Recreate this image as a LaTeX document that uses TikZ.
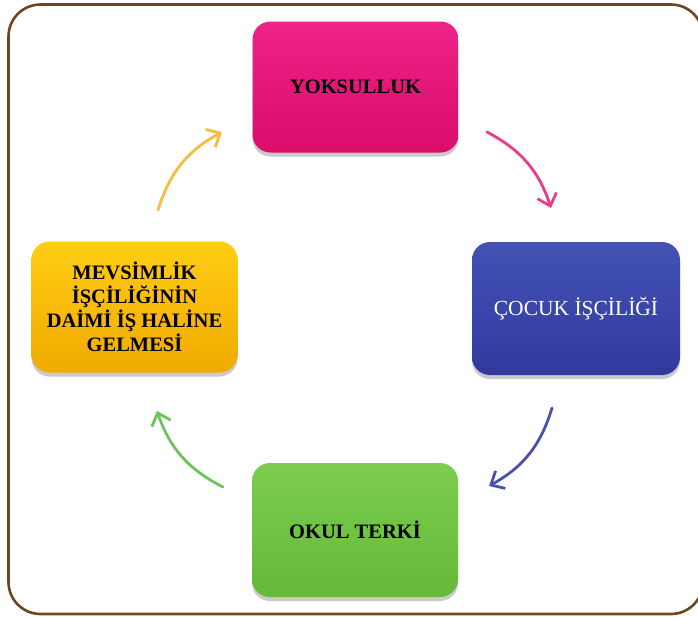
\documentclass[tikz,border=0pt]{standalone}
\usepackage{fontspec}
\setmainfont{Liberation Serif}
\usetikzlibrary{arrows.meta,shadows}
\definecolor{framebrown}{RGB}{110,70,30}
\definecolor{pinkA}{RGB}{238,35,135}
\definecolor{pinkB}{RGB}{218,12,108}
\definecolor{yelA}{RGB}{255,205,20}
\definecolor{yelB}{RGB}{240,170,0}
\definecolor{bluA}{RGB}{68,82,180}
\definecolor{bluB}{RGB}{48,58,158}
\definecolor{grnA}{RGB}{125,205,80}
\definecolor{grnB}{RGB}{100,185,55}
\definecolor{arrPink}{RGB}{232,60,140}
\definecolor{arrBlue}{RGB}{75,80,175}
\definecolor{arrGreen}{RGB}{110,195,95}
\definecolor{arrYellow}{RGB}{245,190,60}
\tikzset{
  box/.style={rounded corners=18pt, minimum width=206pt, minimum height=131pt,
    align=center, inner sep=4pt,
    drop shadow={shadow xshift=0pt, shadow yshift=-4pt, opacity=0.35, fill=black!60}},
  boxtext/.style={font=\bfseries\fontsize{20.5}{24}\selectfont, text=black},
  cyc/.style={line width=2.8pt, line cap=round, -{Straight Barb[length=11pt,width=20pt,line width=2.8pt]}, bend left=22}
}
\begin{document}
\begin{tikzpicture}[x=1pt,y=-1pt]
\useasboundingbox (0,0) rectangle (698,616);
\begin{scope}
\clip (0,0) rectangle (698,616);
\draw[framebrown, line width=2.6pt, rounded corners=32pt] (8.5,4.5) rectangle (703,614);
\end{scope}
\node[box, boxtext, top color=pinkA, bottom color=pinkB] (pov) at (355.5,87) {YOKSULLUK};
\node[box, boxtext, top color=yelA, bottom color=yelB] (sea) at (134.5,307) {MEVSİMLİK\\İŞÇİLİĞİNİN\\DAİMİ İŞ HALİNE\\GELMESİ};
\node[box, minimum width=208pt, minimum height=133pt, top color=bluA, bottom color=bluB,
  font=\fontsize{21.5}{24}\selectfont, text=white] (child) at (576,308.5) {ÇOCUK İŞÇİLİĞİ};
\node[box, boxtext, minimum height=134pt, top color=grnA, bottom color=grnB] (school) at (355,530) {OKUL TERKİ};
\coordinate (p1) at (487,132);
\coordinate (p2) at (551,208);
\coordinate (b1) at (552,408);
\coordinate (b2) at (489,486);
\coordinate (g1) at (223,487);
\coordinate (g2) at (157,411);
\coordinate (y1) at (158,210);
\coordinate (y2) at (222,132);
\draw[cyc, arrPink] (p1) to (p2);
\draw[cyc, arrBlue] (b1) to (b2);
\draw[cyc, arrGreen] (g1) to (g2);
\draw[cyc, arrYellow] (y1) to (y2);
\end{tikzpicture}
\end{document}
